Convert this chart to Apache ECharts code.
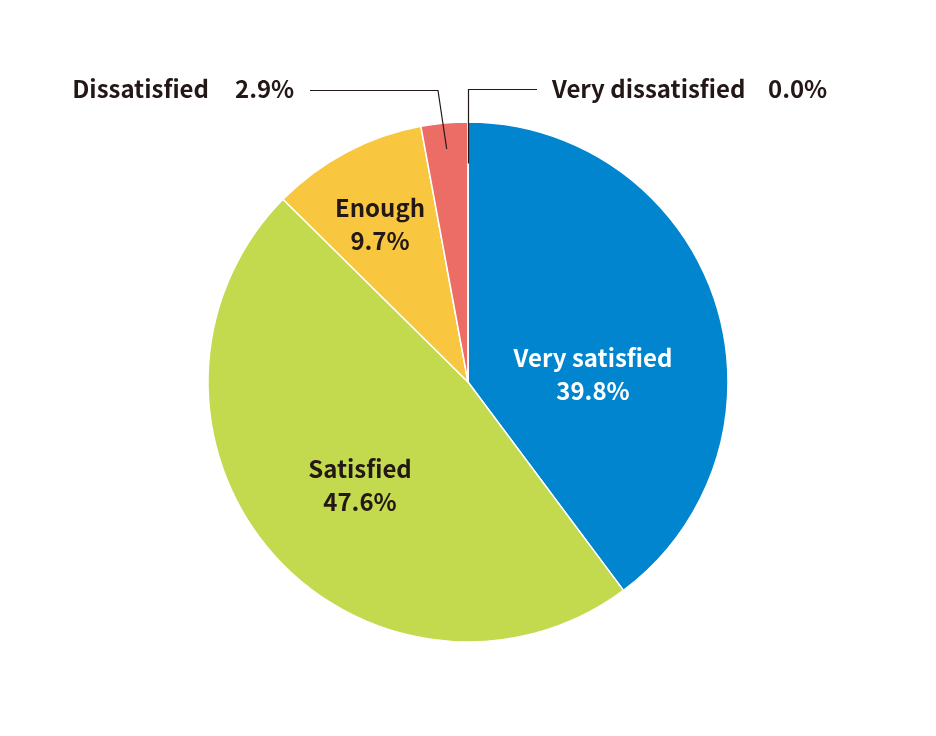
<!DOCTYPE html>
<html>
<head>
<meta charset="utf-8">
<script src="https://cdn.jsdelivr.net/npm/echarts@6/dist/echarts.min.js"></script>
<style>html,body{margin:0;padding:0;background:#fff}#c{width:936px;height:736px}</style>
</head>
<body>
<div id="c"></div>
<script>
const categories = ['Very satisfied', 'Satisfied', 'Enough', 'Dissatisfied', 'Very dissatisfied'];
const values = [39.8, 47.6, 9.7, 2.9, 0.0];
const colors = ['#0085CE', '#C3D94E', '#F9C73F', '#EC6D65', '#EC6D65'];

const CX = 468, CY = 382, R = 260;
const textColor = '#231815';
const FONT = '"Noto Sans CJK JP", "Noto Sans", sans-serif';
const total = values.reduce((a, b) => a + b, 0);
function midAngle(i) {
  let s = 0;
  for (let k = 0; k < i; k++) s += values[k];
  return ((s + values[i] / 2) / total) * 2 * Math.PI; // clockwise from 12 o'clock
}
function pt(i, frac) {
  const a = midAngle(i);
  return [CX + Math.sin(a) * R * frac, CY - Math.cos(a) * R * frac];
}
const pct = (i) => values[i].toFixed(1) + '%';

// label placement (layout only)
const insideLabels = [
  { i: 0, x: 593, y: 374, color: '#fff' },
  { i: 1, x: 360, y: 485, color: textColor },
  { i: 2, x: 380, y: 224, color: textColor }
];

function txt(text, x, y, align, color, extra) {
  return Object.assign({
    type: 'text', x, y, silent: true, z: 10,
    style: Object.assign({
      text, fill: color, fontSize: 24, fontWeight: 'bold', fontFamily: FONT,
      align, verticalAlign: 'middle', textAlign: align, textVerticalAlign: 'middle'
    }, extra || {})
  });
}

const graphics = [];
insideLabels.forEach(l => {
  graphics.push(txt(categories[l.i] + '\n' + pct(l.i), l.x, l.y, 'center', l.color, { lineHeight: 33 }));
});
// Dissatisfied (outside, left)
graphics.push(txt(categories[3], 209, 89, 'right', textColor));
graphics.push(txt(pct(3), 235, 89, 'left', textColor));
const s3 = pt(3, 0.9);
graphics.push({ type: 'polyline', silent: true, z: 10,
  shape: { points: [s3, [438, 90.5], [310, 90.5]] },
  style: { stroke: textColor, lineWidth: 1.2, fill: null } });
// Very dissatisfied (outside, right)
graphics.push(txt(categories[4], 552, 89, 'left', textColor));
graphics.push(txt(pct(4), 768, 89, 'left', textColor));
const s4 = pt(4, 0.84);
graphics.push({ type: 'polyline', silent: true, z: 10,
  shape: { points: [[s4[0] + 0.5, s4[1]], [s4[0] + 0.5, 89.5], [537, 89.5]] },
  style: { stroke: textColor, lineWidth: 1.2, fill: null } });

const chart = echarts.init(document.getElementById('c'));
chart.setOption({
  animation: false,
  series: [{
    type: 'pie',
    center: [CX, CY],
    radius: [0, R],
    startAngle: 90,
    clockwise: true,
    minAngle: 0,
    avoidLabelOverlap: false,
    itemStyle: { borderColor: '#fff', borderWidth: 1.5 },
    label: { show: false },
    labelLine: { show: false },
    data: categories.map((name, i) => ({ name, value: values[i], itemStyle: { color: colors[i] } }))
  }],
  graphic: graphics
});
</script>
</body>
</html>
